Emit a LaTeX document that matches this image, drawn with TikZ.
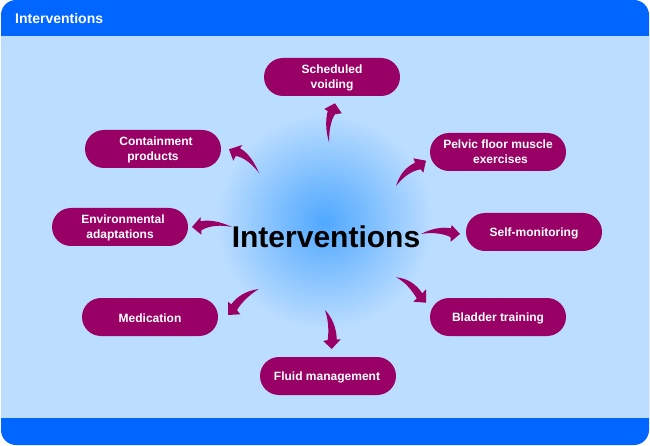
\documentclass[tikz,border=0pt]{standalone}
\usepackage{fontspec}
\setmainfont{Liberation Sans}
\definecolor{headblue}{HTML}{0066FF}
\definecolor{bodyblue}{HTML}{BBDDFF}
\definecolor{glowblue}{HTML}{4FA8FF}
\definecolor{plum}{HTML}{990066}
\newcommand\dropline{\rule{0pt}{10.6pt}}
\tikzset{
  pill/.style={draw=none,fill=plum,rounded corners=19pt,minimum width=136pt,minimum height=38pt,inner sep=0pt,
    text=white,align=center,font=\fontsize{12}{15}\selectfont\bfseries},
  bent/.style={fill=plum,draw=none},
}
\begin{document}
\begin{tikzpicture}[x=1pt,y=-1pt]
\useasboundingbox (0,0) rectangle (650,446);
\fill[white] (0,0) rectangle (650,446);
\fill[headblue,rounded corners=15pt] (1,0) rectangle (649,445);
\fill[bodyblue] (1,36) rectangle (649,418);
\foreach \r in {108,106.5,...,1} {
  \pgfmathsetmacro\p{100*(1-\r/108)}
  \fill[glowblue!\p!bodyblue] (325,222) circle (\r);
}
\node[anchor=west,text=white,font=\fontsize{14}{16}\selectfont\bfseries,inner sep=0pt] (head) at (15,18.6) {Interventions};
\node[font=\fontsize{30}{34}\selectfont\bfseries,text=black,inner sep=0pt] (centre) at (326,237) {Interventions};
\node[pill] (sched) at (332,77) {\dropline Scheduled\\voiding};
\node[pill] (contain) at (153,149) {\dropline\hspace*{6pt}Containment\\products};
\node[pill] (pelvic) at (498,152) {Pelvic floor muscle\\\hspace*{5pt}exercises};
\node[pill] (env) at (120,227) {\dropline\hspace*{6pt}Environmental\\adaptations};
\node[pill] (self) at (534,232) {\dropline Self-monitoring};
\node[pill] (med) at (150,317) {\dropline Medication};
\node[pill] (blad) at (498,317) {\dropline Bladder training};
\node[pill] (fluid) at (328,376) {\dropline\hspace*{-2pt}Fluid management};
% tapered curved connectors: tail near the centre, tip at the node
\coordinate (t1) at (329,142.3); \coordinate (h1) at (335,103.3);
\fill[bent] (t1) .. controls (325.5,130) and (325.5,120) .. (327.7,111) -- (324.3,109) -- (h1) -- (341.7,113.3) -- (335,114.3) .. controls (331,120) and (329,130) .. (t1) -- cycle;
\coordinate (t2) at (396,186); \coordinate (h2) at (426,160.7);
\fill[bent] (t2) .. controls (400,173.3) and (406.7,166.7) .. (415,162.7) -- (413.3,158.3) -- (h2) -- (423.3,172.7) -- (420.7,169.3) .. controls (411.7,170.7) and (403.3,176.7) .. (t2) -- cycle;
\coordinate (t3) at (421,234); \coordinate (h3) at (460,234);
\fill[bent] (t3) .. controls (431.7,228.3) and (443,226.7) .. (451,228.3) -- (451.7,225) -- (h3) -- (450.7,241.7) -- (450.7,237.3) .. controls (445,234) and (433,231.7) .. (t3) -- cycle;
\coordinate (t4) at (396,277.3); \coordinate (h4) at (426,302.7);
\fill[bent] (t4) .. controls (408.3,278.3) and (416.7,285) .. (422.3,293.3) -- (426,289.3) -- (h4) -- (413.3,301.7) -- (416.7,298.3) .. controls (411.7,290) and (405,281.7) .. (t4) -- cycle;
\coordinate (t5) at (325,310); \coordinate (h5) at (331.7,349);
\fill[bent] (t5) .. controls (331.7,316.7) and (336.7,328.3) .. (336.7,339.3) -- (340.7,339.3) -- (h5) -- (323.3,341) -- (327.7,340) .. controls (329,330) and (328.3,320) .. (t5) -- cycle;
\coordinate (t6) at (258.7,289); \coordinate (h6) at (228,315);
\fill[bent] (t6) .. controls (245.3,291) and (237,296.7) .. (231.3,304.3) -- (228,301.7) -- (h6) -- (240.3,314.3) -- (237,310) .. controls (242,301.7) and (250.3,294.3) .. (t6) -- cycle;
\coordinate (t7) at (232,227); \coordinate (h7) at (192,227);
\fill[bent] (t7) .. controls (221.3,222) and (209.7,219.3) .. (200.7,221.3) -- (200.7,217) -- (h7) -- (201.3,234.7) -- (201.3,230.3) .. controls (209.7,225.3) and (221.3,224.7) .. (t7) -- cycle;
\coordinate (t8) at (259.3,173.3); \coordinate (h8) at (229,149.3);
\fill[bent] (t8) .. controls (253.3,160) and (246.7,151.7) .. (240,148.3) -- (242.3,145) -- (h8) -- (233.3,160.7) -- (235.7,156) .. controls (243.3,156.7) and (253.3,165) .. (t8) -- cycle;
\end{tikzpicture}
\end{document}
